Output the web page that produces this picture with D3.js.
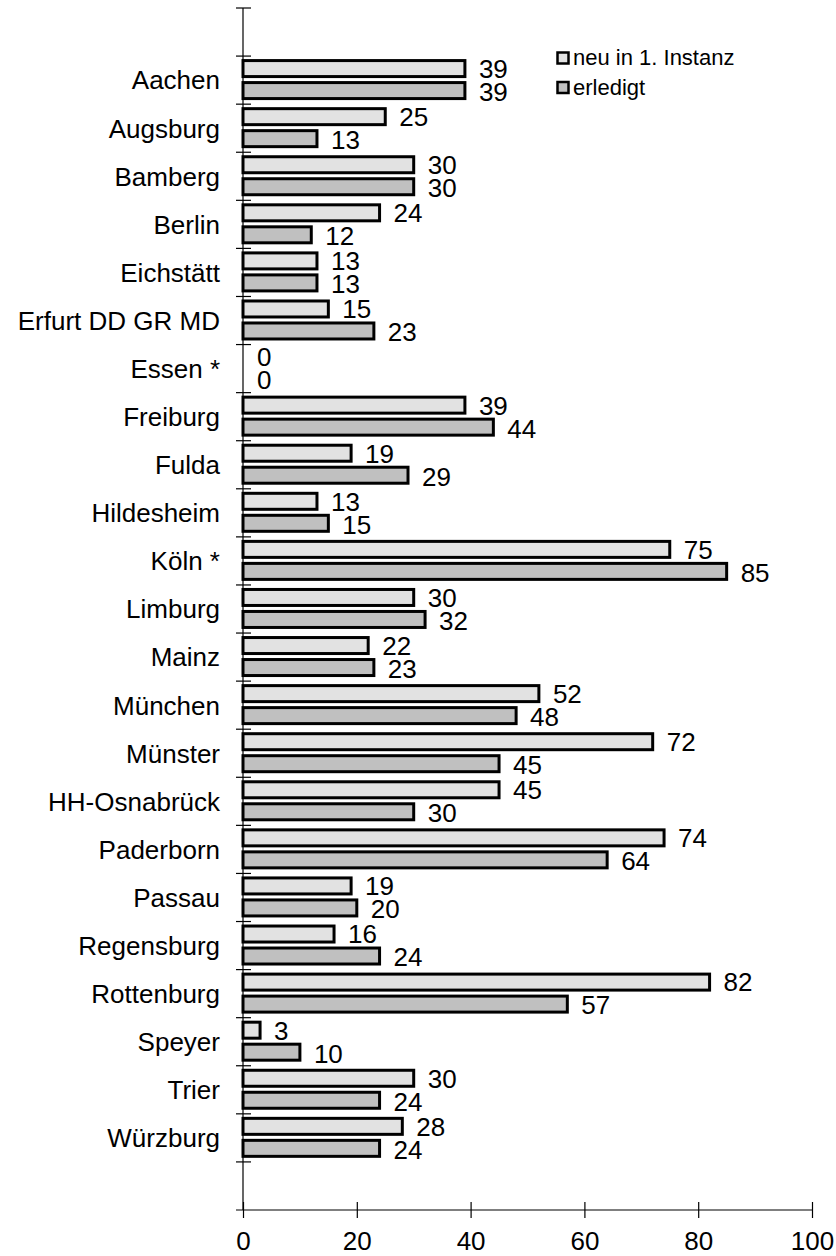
<!DOCTYPE html>
<meta charset="utf-8">
<style>
  body { margin: 0; background: #fff; }
  text { font-family: 'Liberation Sans', Arial, sans-serif; fill: #000; }
  .bar { stroke: #000; stroke-width: 3px; }
</style>
<svg width="836" height="1256"></svg>
<script src="https://d3js.org/d3.v7.min.js"></script>
<script>

var cats = ["Aachen", "Augsburg", "Bamberg", "Berlin", "Eichstätt", "Erfurt DD GR MD", "Essen *",
            "Freiburg", "Fulda", "Hildesheim", "Köln *", "Limburg", "Mainz", "München", "Münster",
            "HH-Osnabrück", "Paderborn", "Passau", "Regensburg", "Rottenburg", "Speyer", "Trier", "Würzburg"];
var neu = [39, 25, 30, 24, 13, 15, 0, 39, 19, 13, 75, 30, 22, 52, 72, 45, 74, 19, 16, 82, 3, 30, 28];
var erledigt = [39, 13, 30, 12, 13, 23, 0, 44, 29, 15, 85, 32, 23, 48, 45, 30, 64, 20, 24, 57, 10, 24, 24];
var xTicks = [0, 20, 40, 60, 80, 100];
var seriesNames = ["neu in 1. Instanz", "erledigt"];
var colors = ["#e2e2e2", "#c0c0c0"];

var svg = d3.select("svg");
var yTop = 8, yBottom = 1210, xLeft = 243, xRight = 812;
var step = (yBottom - yTop) / (cats.length + 2);
var fs = "26px";

var x = d3.scaleLinear().domain([0, 100]).range([xLeft, xRight]);
var y = d3.scaleBand().domain(cats).range([yTop + step, yBottom - step]).paddingInner(0).paddingOuter(0);

// bars
var g = svg.append("g");
cats.forEach(function (c, i) {
  var b = y(c);
  [neu[i], erledigt[i]].forEach(function (v, j) {
    var yy = b + 4.5 + j * 22;
    if (v > 0) {
      g.append("rect").attr("class", "bar")
        .attr("x", x(0)).attr("y", yy)
        .attr("width", x(v) - x(0)).attr("height", 16)
        .attr("fill", colors[j]);
    }
    g.append("text")
      .attr("x", x(v) + 14).attr("y", yy + 8 + (j ? 1 : 0))
      .attr("dy", "0.36em")
      .style("font-size", fs)
      .text(v);
  });
  svg.append("text")
    .attr("x", 220).attr("y", b + y.bandwidth() / 2)
    .attr("dy", "0.36em")
    .attr("text-anchor", "end")
    .style("font-size", fs)
    .text(c);
});

// y axis
svg.append("line").attr("x1", xLeft).attr("x2", xLeft).attr("y1", yTop).attr("y2", yBottom)
  .attr("stroke", "#000").attr("stroke-width", 1.2);
d3.range(cats.length + 2).forEach(function (k) {
  var yy = yTop + k * step;
  svg.append("line").attr("x1", 236).attr("x2", 251).attr("y1", yy).attr("y2", yy)
    .attr("stroke", "#000").attr("stroke-width", 1.2);
});

// x axis
var xa = svg.append("g").attr("transform", "translate(0," + yBottom + ")")
  .call(d3.axisBottom(x).tickValues(xTicks).tickSize(8).tickSizeOuter(0));
xa.select(".domain").remove();
xa.append("line").attr("x1", 236).attr("x2", xRight).attr("stroke", "#000").attr("stroke-width", 1.2);
xa.selectAll(".tick line").attr("y1", -8).attr("stroke-width", 1.2);
xa.selectAll(".tick text")
  .attr("y", 40).attr("dy", null)
  .style("font-size", fs)
  .style("font-family", "'Liberation Sans', Arial, sans-serif")
  .attr("fill", "#000");

// legend
var lg = svg.append("g");
seriesNames.forEach(function (s, i) {
  var yy = 65 + i * 29.5;
  lg.append("rect").attr("x", 557.5).attr("y", yy - 12.5)
    .attr("width", 11).attr("height", 11)
    .attr("fill", colors[i]).attr("stroke", "#000").attr("stroke-width", 2.5);
  lg.append("text").attr("x", 573).attr("y", yy)
    .style("font-size", "22px").text(s);
});

</script>
